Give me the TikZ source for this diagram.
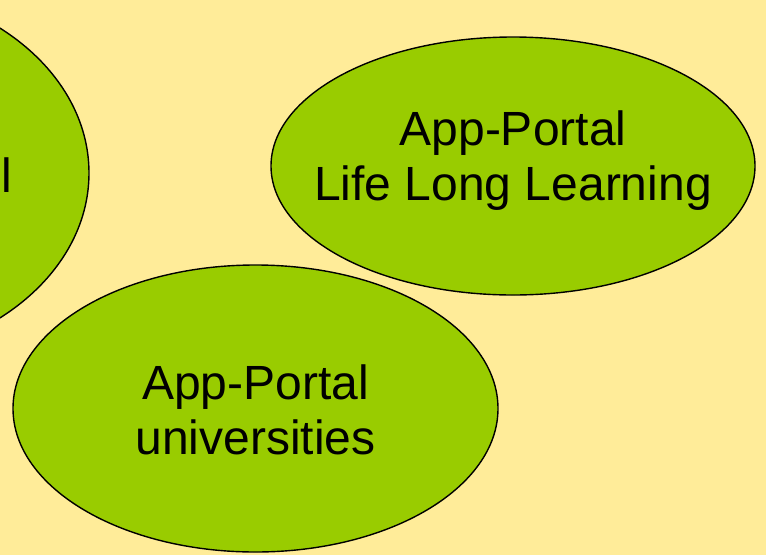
\documentclass[tikz,border=0pt]{standalone}
\usepackage{fontspec}
\setmainfont{Liberation Sans}
\usetikzlibrary{shapes.geometric}
\definecolor{bgyellow}{RGB}{255,236,153}
\definecolor{leafgreen}{RGB}{153,204,0}
\begin{document}
\begin{tikzpicture}[x=1pt,y=-1pt,
  bubble/.style={ellipse,draw=black,fill=leafgreen,line width=1.4pt,inner sep=0pt},
  lbl/.style={font=\fontsize{48}{55}\selectfont,inner sep=0pt,align=center}]
\fill[bgyellow] (0,0) rectangle (766,555);
\useasboundingbox (0,0) rectangle (766,555);
\begin{scope}
\clip (0,0) rectangle (766,555);
\node[bubble,minimum width=484pt,minimum height=374pt] (left) at (-153,173) {};
\end{scope}
\node[lbl,anchor=base west] (lefttext) at (1,192) {l};
\node[bubble,minimum width=484pt,minimum height=258pt] (lll) at (513,166) {};
\node[lbl] (llltext) at (513,161) {App-Portal\\Life Long Learning};
\node[bubble,minimum width=485pt,minimum height=287pt] (uni) at (255.5,408.5) {};
\node[lbl] (unitext) at (255.5,410) {App-Portal\\universities};
\end{tikzpicture}
\end{document}
